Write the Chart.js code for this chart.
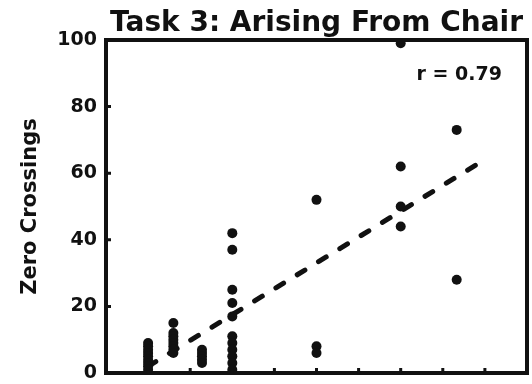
<!DOCTYPE html>
<html>
<head>
<meta charset="utf-8">
<script src="https://cdn.jsdelivr.net/npm/chart.js@4/dist/chart.umd.min.js"></script>
<style>
    html, body { margin: 0; padding: 0; background: #fff; }
    #wrap { width: 532px; height: 384px; }
</style>
</head>
<body>
<div id="wrap"><canvas id="taskChart" width="532" height="384"></canvas></div>
<script>
// Column positions on the x axis and the zero-crossing values
const colX = [1, 1.6, 2.28, 3, 5, 7, 8.33];
const colValues = [
    [9, 8, 7, 6, 5, 4, 3, 2, 1],
    [15, 12, 11, 10, 9, 8, 7, 6],
    [7, 6, 5, 4, 3],
    [42, 37, 25, 21, 17, 11, 9, 7, 5, 3, 1],
    [52, 8, 6],
    [99, 62, 50, 44],
    [73, 28]
];

// Regression line end points
const fitX = [1, 8.83];
const fitY = [2, 62.8];

const xTicks = [1, 2, 3, 4, 5, 6, 7, 8, 9];
const yTicks = [0, 20, 40, 60, 80, 100];

const titleText = 'Task 3: Arising From Chair';
const corrText = 'r = 0.79';
const yTitle = 'Zero Crossings';

const ink = '#111';
const fontFamily = '"DejaVu Sans", sans-serif';

// Build scatter points from the columns
const scatterPoints = [];
colX.forEach((x, i) => {
    colValues[i].forEach(v => scatterPoints.push({ x: x, y: v }));
});
const fitPoints = fitX.map((x, i) => ({ x: x, y: fitY[i] }));

// Frame, inward ticks, title and r label
const framePlugin = {
    id: 'frame',
    afterDatasetsDraw(chart) {
        const ctx = chart.ctx;
        const area = chart.chartArea;
        const xs = chart.scales.x;
        const ys = chart.scales.y;
        ctx.save();
        ctx.strokeStyle = ink;
        ctx.lineWidth = 4;
        ctx.strokeRect(area.left, area.top, area.right - area.left, area.bottom - area.top);

        ctx.lineWidth = 3;
        ctx.beginPath();
        yTicks.forEach(t => {
            const py = ys.getPixelForValue(t);
            ctx.moveTo(area.left, py);
            ctx.lineTo(area.left + 5, py);
        });
        xTicks.forEach(t => {
            const px = xs.getPixelForValue(t);
            ctx.moveTo(px, area.bottom);
            ctx.lineTo(px, area.bottom - 5);
        });
        ctx.stroke();

        ctx.fillStyle = ink;
        ctx.font = 'bold 28px ' + fontFamily;
        ctx.textAlign = 'center';
        ctx.textBaseline = 'alphabetic';
        ctx.fillText(titleText, (area.left + area.right) / 2, 31);

        ctx.font = 'bold 19px ' + fontFamily;
        ctx.textAlign = 'right';
        ctx.fillText(corrText, 502, 80);
        ctx.restore();
    }
};

new Chart(document.getElementById('taskChart'), {
    type: 'scatter',
    data: {
        datasets: [{
            label: 'Fit',
            type: 'line',
            data: fitPoints,
            borderColor: ink,
            borderWidth: 5,
            borderDash: [9, 16],
            borderCapStyle: 'round',
            pointRadius: 0,
            fill: false,
            clip: false,
            order: 2
        }, {
            label: 'Subjects',
            data: scatterPoints,
            backgroundColor: ink,
            borderWidth: 0,
            pointRadius: 5,
            pointHoverRadius: 5,
            clip: false,
            order: 1
        }]
    },
    options: {
        responsive: false,
        animation: false,
        devicePixelRatio: 1,
        layout: {
            padding: { top: 40, right: 4, left: 0, bottom: 0 }
        },
        plugins: {
            legend: { display: false },
            tooltip: { enabled: false },
            title: { display: false }
        },
        scales: {
            x: {
                type: 'linear',
                min: 0,
                max: 10,
                ticks: { display: false },
                grid: { display: false },
                border: { display: false },
                afterFit(scale) {
                    scale.height = 11;
                    scale.paddingLeft = 0;
                    scale.paddingRight = 0;
                }
            },
            y: {
                type: 'linear',
                min: 0,
                max: 100,
                afterBuildTicks(scale) {
                    scale.ticks = yTicks.map(v => ({ value: v }));
                },
                ticks: {
                    color: ink,
                    padding: 9,
                    font: { family: fontFamily, size: 19, weight: 'bold' }
                },
                grid: { display: false, drawTicks: false },
                border: { display: false },
                title: {
                    display: true,
                    text: yTitle,
                    color: ink,
                    padding: { top: 18, bottom: 0 },
                    font: { family: fontFamily, size: 21, weight: 'bold' }
                },
                afterFit(scale) {
                    scale.width = 106;
                    // let the end labels overhang the plot edges
                    scale.paddingTop = 0;
                    scale.paddingBottom = 0;
                }
            }
        }
    },
    plugins: [framePlugin]
});
</script>
</body>
</html>
